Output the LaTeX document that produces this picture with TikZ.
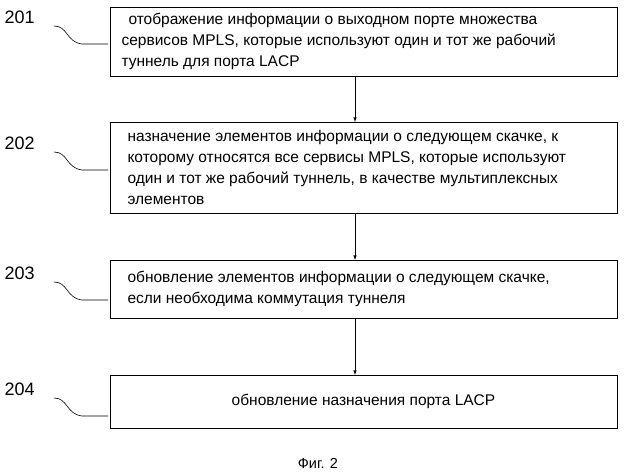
\documentclass[tikz,border=0pt]{standalone}
\usepackage{fontspec}
\setmainfont{Liberation Sans}
\begin{document}
\begin{tikzpicture}[x=1pt,y=-1pt,
  box/.style={draw,line width=0.8pt,minimum width=507pt,anchor=north west,inner sep=0pt},
  txt/.style={align=left,font=\fontsize{15.5}{21}\selectfont,anchor=west},
  lbl/.style={font=\fontsize{18}{20}\selectfont,anchor=west},
  arr/.style={-latex,line width=0.6pt},
  crv/.style={line width=0.6pt}]
\useasboundingbox (0,0) rectangle (640,476);
\node[box,minimum height=69pt] (b1) at (110,7) {};
\node[box,minimum height=91pt] (b2) at (110,122) {};
\node[box,minimum height=58pt] (b3) at (110,260) {};
\node[box,minimum height=53pt] (b4) at (110,375) {};
\node[txt] (t1) at (118,41.5) {\hspace*{7pt}отображение информации о выходном порте множества\\сервисов MPLS, которые используют один и тот же рабочий\\туннель для порта LACP};
\node[txt] (t2) at (124,167.5) {назначение элементов информации о следующем скачке, к\\которому относятся все сервисы MPLS, которые используют\\один и тот же рабочий туннель, в качестве мультиплексных\\элементов};
\node[txt] (t3) at (124,289) {обновление элементов информации о следующем скачке,\\если необходима коммутация туннеля};
\node[font=\fontsize{15.5}{21}\selectfont] (t4) at (363.5,401.5) {обновление назначения порта LACP};
\draw[arr] (355,76) -- (355,122);
\draw[arr] (355,213) -- (355,260);
\draw[arr] (355,318) -- (355,375);
\node[lbl] (l1) at (1,17) {201};
\node[lbl] (l2) at (1,143) {202};
\node[lbl] (l3) at (1,273) {203};
\node[lbl] (l4) at (1,389) {204};
\foreach \i/\y in {1/26,2/152,3/282,4/398}{
  \coordinate (s\i) at (54,\y);
  \draw[crv] (s\i) .. controls (68,\y) and (66,\y+16) .. (82,\y+18) -- (108,\y+18);
}
\node[font=\fontsize{14.5}{16}\selectfont] (cap) at (318,463) {Фиг. 2};
\end{tikzpicture}
\end{document}
